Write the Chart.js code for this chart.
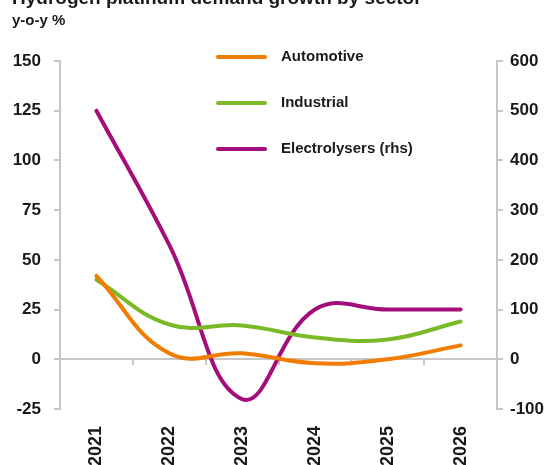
<!DOCTYPE html>
<html>
<head>
<meta charset="utf-8">
<script src="https://cdn.jsdelivr.net/npm/chart.js@4.4.1/dist/chart.umd.min.js"></script>
<style>
  html, body { margin: 0; padding: 0; background: #fff; overflow: hidden; }
  #wrap { position: relative; width: 553px; height: 465px; }
</style>
</head>
<body>
<div id="wrap"><canvas id="demandChart"></canvas></div>
<script>
// values
const years = ['2021', '2022', '2023', '2024', '2025', '2026'];
const automotive = [42, 3, 3, -2, 0, 7];
const industrial = [40, 17.5, 17, 11, 10, 19];
const electrolysers = [500, 230, -80, 100, 100, 100];   // right hand scale
const leftTicks = [-25, 0, 25, 50, 75, 100, 125, 150];
const rightTicks = [-100, 0, 100, 200, 300, 400, 500, 600];

const FONT = '"Liberation Sans", Arial, sans-serif';
const GREY = '#c6c6c6';

// title + vertical legend drawn by hand
const extras = {
    id: 'extras',
    afterDraw(chart) {
        const ctx = chart.ctx;
        ctx.save();
        ctx.fillStyle = '#1a1a1a';
        ctx.textAlign = 'left';
        ctx.textBaseline = 'alphabetic';
        ctx.font = 'bold 19px ' + FONT;
        ctx.fillText('Hydrogen platinum demand growth by sector', 12, 4);
        ctx.font = 'bold 15px ' + FONT;
        ctx.fillText('y-o-y %', 12, 25);

        const rows = [57, 103, 149];
        chart.data.datasets.forEach(function(ds, i) {
            const y = rows[i];
            ctx.strokeStyle = ds.borderColor;
            ctx.lineWidth = 4;
            ctx.lineCap = 'round';
            ctx.beginPath();
            ctx.moveTo(218, y);
            ctx.lineTo(265, y);
            ctx.stroke();
            ctx.fillStyle = '#1a1a1a';
            ctx.font = 'bold 15px ' + FONT;
            ctx.textBaseline = 'middle';
            ctx.fillText(ds.label, 281, y);
        });
        ctx.restore();
    }
};

const ctx = document.getElementById('demandChart').getContext('2d');
const chart = new Chart(ctx, {
    type: 'line',
    data: {
        labels: years,
        datasets: [{
            label: 'Automotive',
            data: automotive,
            borderColor: 'rgb(240, 124, 0)',
            yAxisID: 'y'
        }, {
            label: 'Industrial',
            data: industrial,
            borderColor: 'rgb(122, 186, 40)',
            yAxisID: 'y'
        }, {
            label: 'Electrolysers (rhs)',
            data: electrolysers,
            borderColor: 'rgb(163, 14, 122)',
            yAxisID: 'y1'
        }]
    },
    options: {
        responsive: true,
        maintainAspectRatio: false,
        animation: false,
        layout: { padding: { top: 61 } },
        elements: {
            line: { borderWidth: 4, tension: 0.42, fill: false, borderCapStyle: 'round' },
            point: { radius: 0, hoverRadius: 0 }
        },
        plugins: {
            legend: { display: false },
            tooltip: { enabled: false }
        },
        scales: {
            x: {
                type: 'category',
                offset: true,
                grid: { display: false },
                border: { display: false },
                ticks: {
                    autoSkip: false,
                    minRotation: 90,
                    maxRotation: 90,
                    padding: 9,
                    color: '#1a1a1a',
                    font: { family: FONT, size: 18, weight: 'bold' }
                },
                afterFit: function(s) { s.height = 56; }
            },
            // zero line with category tick marks
            x2: {
                type: 'category',
                position: { y: 0 },
                offset: true,
                grid: {
                    offset: true,
                    drawOnChartArea: false,
                    drawTicks: true,
                    tickLength: 5,
                    color: GREY,
                    lineWidth: 2
                },
                border: { display: true, color: GREY, width: 2 },
                ticks: { display: false }
            },
            y: {
                position: 'left',
                min: -25,
                max: 150,
                afterBuildTicks: function(s) { s.ticks = leftTicks.map(v => ({ value: v })); },
                grid: { drawOnChartArea: false, tickLength: 6, color: GREY, lineWidth: 2 },
                border: { display: true, color: GREY, width: 2 },
                ticks: {
                    padding: 13,
                    color: '#1a1a1a',
                    font: { family: FONT, size: 17, weight: 'bold' }
                },
                afterFit: function(s) { s.width = 60; }
            },
            y1: {
                position: 'right',
                min: -100,
                max: 600,
                afterBuildTicks: function(s) { s.ticks = rightTicks.map(v => ({ value: v })); },
                grid: { drawOnChartArea: false, tickLength: 6, color: GREY, lineWidth: 2 },
                border: { display: true, color: GREY, width: 2 },
                ticks: {
                    padding: 7,
                    color: '#1a1a1a',
                    font: { family: FONT, size: 17, weight: 'bold' }
                },
                afterFit: function(s) { s.width = 56; }
            }
        }
    },
    plugins: [extras]
});
</script>
</body>
</html>
